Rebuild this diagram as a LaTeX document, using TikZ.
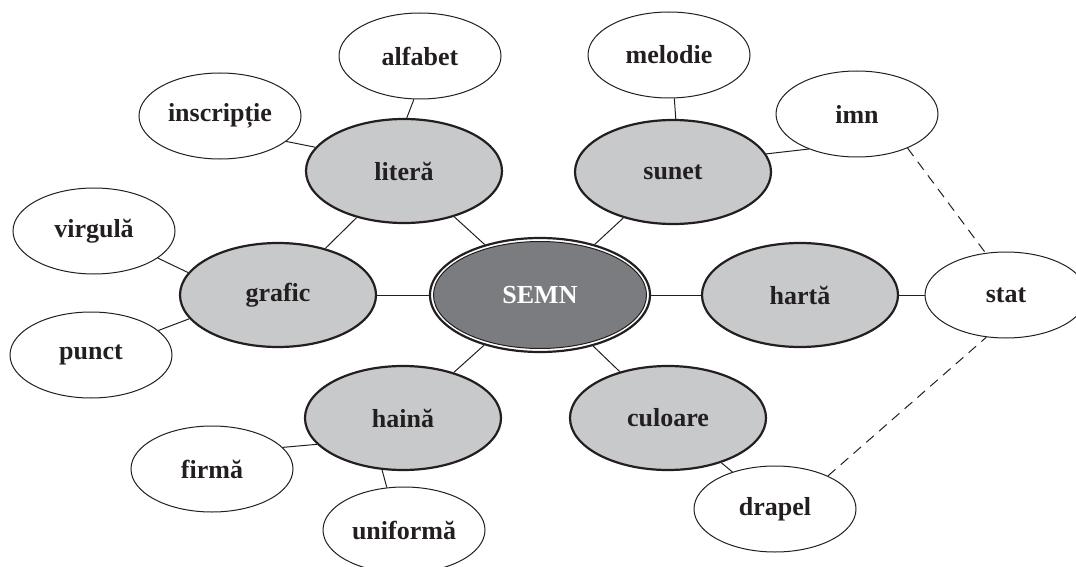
\documentclass[tikz,border=0pt]{standalone}
\usepackage{fontspec}
\setmainfont{Liberation Serif}
\usetikzlibrary{shapes.geometric}
\definecolor{ink}{HTML}{231F20}
\definecolor{hubfill}{HTML}{C8C9CB}
\definecolor{semnfill}{HTML}{7B7C80}
\begin{document}
\begin{tikzpicture}[x=1pt,y=-1pt,
  every node/.style={font=\fontsize{26}{30}\selectfont\bfseries, text=ink},
  leaf/.style={ellipse, draw=ink, line width=1pt, fill=white, inner sep=0pt,
    minimum width=162pt, minimum height=86pt},
  hub/.style={ellipse, draw=ink, line width=2.2pt, fill=hubfill, inner sep=0pt,
    minimum width=196pt, minimum height=104pt},
  semn/.style={ellipse, draw=ink, line width=2.2pt, fill=white, inner sep=0pt,
    minimum width=220pt, minimum height=114pt, text=white,
    path picture={\draw[ink, line width=1pt, fill=semnfill]
      (path picture bounding box.center) ellipse [x radius=106.5pt, y radius=53.5pt];}},
  link/.style={draw=ink, line width=1pt},
  dashlink/.style={draw=ink, line width=1pt, dash pattern=on 10pt off 7pt}]

\useasboundingbox (0,0) rectangle (1076,567);

% centre
\node[semn] (semn) at (540,295) {SEMN};

% first ring
\node[hub] (litera)  at (404,171) {literă};
\node[hub] (sunet)   at (673,172) {sunet};
\node[hub] (grafic)  at (278,295) {grafic};
\node[hub] (harta)   at (800,295) {hartă};
\node[hub] (haina)   at (403,418) {haină};
\node[hub] (culoare) at (668,418) {culoare};

% outer ring
\node[leaf] (alfabet)    at (420,56)   {alfabet};
\node[leaf] (inscriptie) at (220,116)  {inscripție};
\node[leaf] (melodie)    at (669,55)   {melodie};
\node[leaf] (imn)        at (857,114)  {imn};
\node[leaf] (virgula)    at (94,231)   {virgulă};
\node[leaf] (punct)      at (91,355)   {punct};
\node[leaf] (stat)       at (1006,295) {stat};
\node[leaf] (firma)      at (212,469)  {firmă};
\node[leaf] (uniforma)   at (404,530)  {uniformă};
\node[leaf] (drapel)     at (775,509)  {drapel};

% spokes from the centre
\draw[link] (semn) -- (litera);
\draw[link] (semn) -- (sunet);
\draw[link] (semn) -- (grafic);
\draw[link] (semn) -- (harta);
\draw[link] (semn) -- (haina);
\draw[link] (semn) -- (culoare);
\draw[link] (litera) -- (grafic);

% outer links
\draw[link] (alfabet.-98)   -- (litera.87);
\draw[link] (inscriptie.-21) -- (litera.165);
\draw[link] (melodie.-83)   -- (sunet.87);
\draw[link] (imn.216)       -- (sunet.11);
\draw[link] (virgula.-23)   -- (grafic.166);
\draw[link] (punct.20)      -- (grafic.195);
\draw[link] (harta) -- (stat);
\draw[link] (firma.17)      -- (haina.197);
\draw[link] (uniforma.112)  -- (haina.248);
\draw[link] (drapel.139)    -- (culoare.-40);

% dashed links to "stat"
\draw[dashlink] (imn.-34)   -- (stat.116);
\draw[dashlink] (drapel.32) -- (stat.245);
\end{tikzpicture}
\end{document}
